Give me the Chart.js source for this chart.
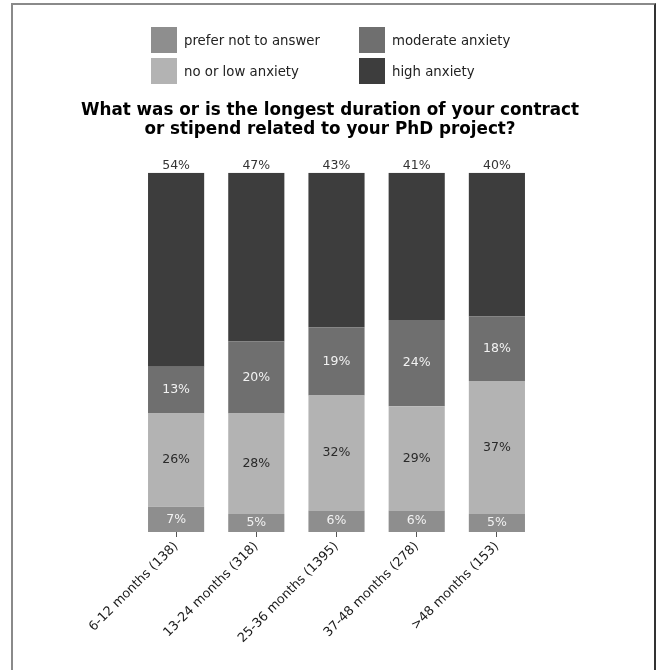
<!DOCTYPE html>
<html>
<head>
<meta charset="utf-8">
<script src="https://cdn.jsdelivr.net/npm/chart.js@4.4.0/dist/chart.umd.min.js"></script>
<style>
  html, body { margin: 0; padding: 0; background: #fff; }
  body { width: 660px; height: 670px; position: relative; overflow: hidden; font-family: "DejaVu Sans", sans-serif; }
  #frame { position: absolute; left: 11px; top: 3px; width: 641px; height: 700px;
           border-left: 2px solid #8a8a8a; border-top: 2px solid #8a8a8a; border-right: 2px solid #333; }
  #wrap { position: absolute; left: 0; top: 0; width: 660px; height: 670px; }
  .leg { position: absolute; display: flex; align-items: center; font-size: 13.3px; color: #222; }
  .leg span.box { display: inline-block; width: 26px; height: 26px; margin-right: 7px; }
</style>
</head>
<body>
<div id="frame"></div>
<div id="wrap"><canvas id="c" width="660" height="670"></canvas></div>
<div id="legend"></div>
<script>
const categories = ["6-12 months (138)", "13-24 months (318)", "25-36 months (1395)", "37-48 months (278)", ">48 months (153)"];
const seriesNames = ["prefer not to answer", "no or low anxiety", "moderate anxiety", "high anxiety"];
const preferNot = [7, 5, 6, 6, 5];
const noLow = [26, 28, 32, 29, 37];
const moderate = [13, 20, 19, 24, 18];
const high = [54, 47, 43, 41, 40];
const titleLines = ["What was or is the longest duration of your contract", "or stipend related to your PhD project?"];

const colors = ["#8e8e8e", "#b3b3b3", "#6f6f6f", "#3d3d3d"];
const labelColors = ["#f2f2f2", "#2a2a2a", "#f2f2f2", "#333333"];
const values = [preferNot, noLow, moderate, high];

// HTML legend (2 columns like the original)
const legendPos = [[151, 27], [151, 58], [359, 27], [359, 58]];
const legendEl = document.getElementById('legend');
seriesNames.forEach((name, i) => {
  const d = document.createElement('div');
  d.className = 'leg';
  d.style.left = legendPos[i][0] + 'px';
  d.style.top = legendPos[i][1] + 'px';
  d.innerHTML = '<span class="box" style="background:' + colors[i] + '"></span><span>' + name + '</span>';
  legendEl.appendChild(d);
});

const labelPlugin = {
  id: 'segLabels',
  afterDatasetsDraw(chart) {
    const ctx = chart.ctx;
    ctx.save();
    ctx.font = '12.5px "DejaVu Sans"';
    ctx.textAlign = 'center';
    chart.data.datasets.forEach((ds, di) => {
      const meta = chart.getDatasetMeta(di);
      meta.data.forEach((bar, i) => {
        const v = ds.data[i];
        const txt = v + '%';
        ctx.fillStyle = labelColors[di];
        if (di === chart.data.datasets.length - 1) {
          ctx.textBaseline = 'bottom';
          ctx.fillText(txt, bar.x, bar.y - 1);
        } else {
          ctx.textBaseline = 'middle';
          ctx.fillText(txt, bar.x, (bar.y + bar.base) / 2);
        }
      });
    });
    ctx.restore();
  }
};

new Chart(document.getElementById('c'), {
  type: 'bar',
  data: {
    labels: categories,
    datasets: seriesNames.map((n, i) => ({
      label: n,
      data: values[i],
      backgroundColor: colors[i],
      borderWidth: 0,
      barPercentage: 0.7,
      categoryPercentage: 1.0
    }))
  },
  options: {
    responsive: false,
    animation: false,
    layout: { padding: { left: 0, right: 0, top: 0, bottom: 0 } },
    plugins: {
      legend: { display: false },
      tooltip: { enabled: false },
      title: {
        display: true,
        text: titleLines,
        color: '#000',
        font: { family: 'DejaVu Sans', size: 16.8, weight: 'bold', lineHeight: 1.15 },
        padding: { top: 101, bottom: 33 }
      }
    },
    scales: {
      x: {
        stacked: true,
        grid: { display: true, offset: false, drawOnChartArea: false, drawTicks: true, tickLength: 5, color: '#555' },
        border: { display: false },
        ticks: {
          color: '#1a1a1a',
          font: { family: 'DejaVu Sans', size: 12.8 },
          maxRotation: 45, minRotation: 45,
          autoSkip: false,
          padding: 2
        },
        afterFit(scale) { scale.height = 138; }
      },
      y: {
        stacked: true,
        display: true,
        min: 0, max: 100,
        ticks: { display: false },
        grid: { display: false },
        border: { display: false },
        afterFit(scale) { scale.width = 136; }
      },
      yr: {
        type: 'linear',
        position: 'right',
        display: true,
        ticks: { display: false },
        grid: { display: false },
        border: { display: false },
        afterFit(scale) { scale.width = 123; }
      }
    }
  },
  plugins: [labelPlugin]
});
</script>
</body>
</html>
